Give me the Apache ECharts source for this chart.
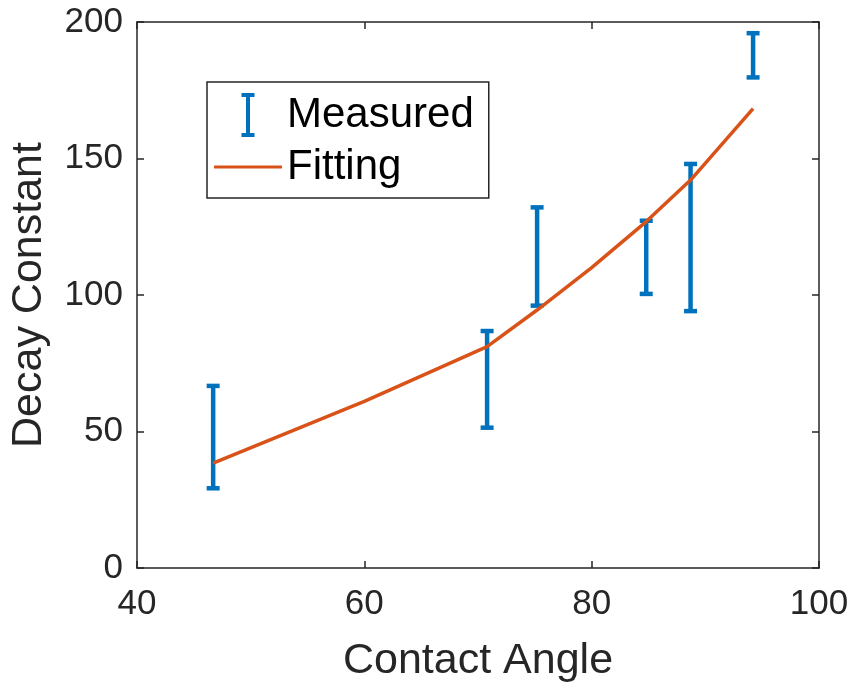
<!DOCTYPE html>
<html>
<head>
<meta charset="utf-8">
<script src="https://cdn.jsdelivr.net/npm/echarts@6/dist/echarts.min.js"></script>
<style>
  html, body { margin: 0; padding: 0; background: #ffffff; }
  #chart { width: 854px; height: 688px; }
</style>
</head>
<body>
<div id="chart"></div>
<script>
// Measured decay constants (error ranges) versus contact angle
var angles = [46.7, 70.8, 75.2, 84.8, 88.7, 94.2];
var lowerBounds = [29.2, 51.4, 96.1, 100.4, 94.1, 179.7];
var upperBounds = [66.7, 86.8, 132.1, 127.2, 148.0, 195.9];

// Fitted curve
var fitAngles = [46.7, 60, 70.8, 75.2, 80, 84.8, 88.7, 94.2];
var fitValues = [38.4, 61.0, 81.1, 94.5, 110.0, 126.9, 142.1, 168.3];

// Axis tick values
var xTicks = [40, 60, 80, 100];
var yTicks = [0, 50, 100, 150, 200];

var BLUE = '#0072BD';
var ORANGE = '#D95319';
var AXIS = '#262626';
var FONT = '"Liberation Sans", Arial, sans-serif';

var errorData = angles.map(function (a, i) { return [a, lowerBounds[i], upperBounds[i]]; });
var fitData = fitAngles.map(function (a, i) { return [a, fitValues[i]]; });

// Legend glyphs share a 68x44 bounding box so both render at the same scale
var errIcon = 'path://M0,0 M68,44 M27.5,0 L40.5,0 L40.5,4 L36,4 L36,40 L40.5,40 L40.5,44 L27.5,44 L27.5,40 L32,40 L32,4 L27.5,4 Z';
var lineIcon = 'path://M0,0 M68,44 M0,20.5 L68,20.5 L68,23.5 L0,23.5 Z';

var axisLineStyle = { color: AXIS, width: 1.5 };

var chart = echarts.init(document.getElementById('chart'), null, { renderer: 'canvas' });
chart.setOption({
  animation: false,
  backgroundColor: '#ffffff',
  grid: { left: 134, right: 35, top: 22, bottom: 120, containLabel: false },
  legend: {
    orient: 'vertical',
    left: 207,
    top: 82,
    padding: [11, 15, 9, 7],
    itemGap: 8,
    itemWidth: 68,
    itemHeight: 44,
    backgroundColor: '#ffffff',
    borderColor: AXIS,
    borderWidth: 1.5,
    borderRadius: 0,
    textStyle: { fontSize: 42, color: '#000000', fontFamily: FONT },
    data: [
      { name: 'Measured', icon: errIcon, itemStyle: { color: BLUE, borderWidth: 0 } },
      { name: 'Fitting', icon: lineIcon, itemStyle: { color: ORANGE, borderWidth: 0 } }
    ]
  },
  xAxis: [
    {
      type: 'value', min: xTicks[0], max: xTicks[xTicks.length - 1], interval: 20,
      name: 'Contact Angle', nameLocation: 'middle', nameGap: 72,
      nameTextStyle: { fontSize: 43, color: AXIS, fontFamily: FONT },
      axisLine: { show: true, onZero: false, lineStyle: axisLineStyle },
      axisTick: { show: true, inside: true, length: 7, lineStyle: axisLineStyle },
      axisLabel: { margin: 19, fontSize: 35, color: AXIS, fontFamily: FONT },
      splitLine: { show: false }
    },
    {
      type: 'value', position: 'top', min: xTicks[0], max: xTicks[xTicks.length - 1], interval: 20,
      axisLine: { show: true, onZero: false, lineStyle: axisLineStyle },
      axisTick: { show: true, inside: true, length: 7, lineStyle: axisLineStyle },
      axisLabel: { show: false },
      splitLine: { show: false }
    }
  ],
  yAxis: [
    {
      type: 'value', min: yTicks[0], max: yTicks[yTicks.length - 1], interval: 50,
      name: 'Decay Constant', nameLocation: 'middle', nameGap: 86,
      nameTextStyle: { fontSize: 43, color: AXIS, fontFamily: FONT },
      axisLine: { show: true, onZero: false, lineStyle: axisLineStyle },
      axisTick: { show: true, inside: true, length: 7, lineStyle: axisLineStyle },
      axisLabel: { margin: 14, fontSize: 35, color: AXIS, fontFamily: FONT },
      splitLine: { show: false }
    },
    {
      type: 'value', position: 'right', min: yTicks[0], max: yTicks[yTicks.length - 1], interval: 50,
      axisLine: { show: true, onZero: false, lineStyle: axisLineStyle },
      axisTick: { show: true, inside: true, length: 7, lineStyle: axisLineStyle },
      axisLabel: { show: false },
      splitLine: { show: false }
    }
  ],
  series: [
    {
      name: 'Measured',
      type: 'custom',
      xAxisIndex: 0,
      yAxisIndex: 0,
      color: BLUE,
      itemStyle: { color: BLUE },
      encode: { x: 0, y: [1, 2] },
      data: errorData,
      z: 2,
      renderItem: function (params, api) {
        var x = api.value(0);
        var lo = api.coord([x, api.value(1)]);
        var hi = api.coord([x, api.value(2)]);
        var half = 6.5;
        var style = { stroke: BLUE, lineWidth: 4.5, fill: null };
        return {
          type: 'group',
          children: [
            { type: 'line', shape: { x1: lo[0], y1: lo[1], x2: hi[0], y2: hi[1] }, style: style },
            { type: 'line', shape: { x1: lo[0] - half, y1: lo[1], x2: lo[0] + half, y2: lo[1] }, style: style },
            { type: 'line', shape: { x1: hi[0] - half, y1: hi[1], x2: hi[0] + half, y2: hi[1] }, style: style }
          ]
        };
      }
    },
    {
      name: 'Fitting',
      type: 'line',
      xAxisIndex: 0,
      yAxisIndex: 0,
      data: fitData,
      color: ORANGE,
      showSymbol: false,
      symbol: 'none',
      smooth: false,
      z: 3,
      lineStyle: { color: ORANGE, width: 3.5 }
    }
  ]
});
</script>
</body>
</html>
